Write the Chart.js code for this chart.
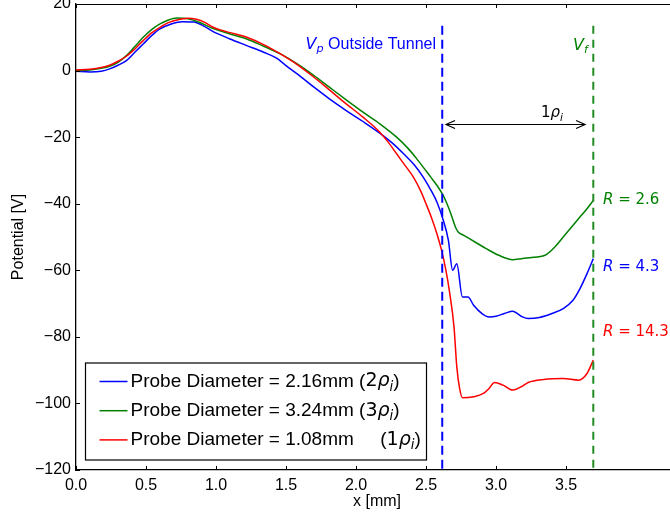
<!DOCTYPE html>
<html>
<head>
<meta charset="utf-8">
<title>Potential profile</title>
<script src="https://cdn.jsdelivr.net/npm/chart.js@4.4.0/dist/chart.umd.min.js"></script>
<style>
    html, body { margin: 0; padding: 0; background: #fff; overflow: hidden; }
    #wrap { width: 670px; height: 514px; overflow: hidden; }
</style>
</head>
<body>
<div id="wrap"><canvas id="potentialChart" width="678" height="514"></canvas></div>
<script>
// x positions [mm] and potential [V]
const blueX = [0.00, 0.10, 0.18, 0.24, 0.30, 0.36, 0.42, 0.48, 0.54, 0.60, 0.68, 0.76, 0.84, 0.92, 0.98, 1.10, 1.22, 1.34, 1.43, 1.50, 1.58, 1.70, 1.81, 1.93, 2.05, 2.17, 2.26, 2.34, 2.42, 2.48, 2.54, 2.58, 2.62, 2.66, 2.69, 2.72, 2.76, 2.80, 2.84, 2.90, 2.95, 3.00, 3.06, 3.12, 3.18, 3.23, 3.31, 3.40, 3.48, 3.55, 3.60, 3.65, 3.695];
const blueY = [-0.2, -0.4, -0.2, 0.5, 1.6, 3.0, 5.5, 8.0, 10.5, 12.5, 14.0, 14.7, 14.6, 13.2, 11.7, 9.5, 7.5, 5.5, 3.8, 1.5, -1.0, -5.0, -8.5, -12.0, -15.3, -18.8, -21.8, -25.0, -28.5, -32.0, -36.3, -39.7, -44.5, -51.0, -60.0, -58.0, -68.0, -68.0, -70.5, -73.0, -74.0, -73.8, -73.0, -72.3, -73.8, -74.5, -74.2, -73.0, -71.5, -69.0, -65.5, -61.0, -56.5];

const greenX = [0.00, 0.10, 0.18, 0.24, 0.30, 0.36, 0.42, 0.48, 0.54, 0.60, 0.66, 0.72, 0.80, 0.88, 0.98, 1.10, 1.22, 1.34, 1.46, 1.58, 1.70, 1.81, 1.93, 2.05, 2.17, 2.29, 2.37, 2.43, 2.48, 2.53, 2.58, 2.62, 2.65, 2.68, 2.71, 2.73, 2.77, 2.85, 2.93, 3.02, 3.12, 3.18, 3.24, 3.35, 3.42, 3.48, 3.54, 3.60, 3.65, 3.695];
const greenY = [0.0, 0.2, 0.7, 1.3, 2.5, 4.5, 7.2, 10.0, 12.3, 14.0, 15.2, 15.8, 15.6, 14.5, 12.6, 11.0, 9.5, 7.3, 5.0, 2.0, -1.5, -5.0, -8.8, -12.5, -16.0, -20.0, -23.3, -26.3, -29.0, -31.8, -34.6, -37.3, -40.0, -43.3, -47.0, -48.5, -49.5, -51.5, -53.5, -55.5, -56.8, -56.5, -56.2, -55.5, -53.0, -50.0, -47.0, -44.0, -41.5, -39.0];

const redX = [0.00, 0.10, 0.18, 0.24, 0.30, 0.36, 0.42, 0.48, 0.54, 0.60, 0.66, 0.72, 0.80, 0.86, 0.92, 0.98, 1.04, 1.10, 1.22, 1.34, 1.46, 1.58, 1.70, 1.81, 1.93, 2.05, 2.17, 2.23, 2.29, 2.35, 2.41, 2.46, 2.50, 2.54, 2.58, 2.61, 2.64, 2.67, 2.70, 2.72, 2.74, 2.76, 2.84, 2.91, 2.95, 2.99, 3.05, 3.12, 3.18, 3.23, 3.34, 3.48, 3.59, 3.65, 3.695];
const redY = [0.2, 0.4, 0.9, 1.6, 2.8, 4.3, 6.5, 9.0, 11.3, 13.0, 14.4, 15.2, 15.7, 15.4, 14.5, 13.0, 12.1, 11.4, 10.0, 7.8, 5.0, 1.8, -2.0, -5.8, -10.0, -14.0, -18.5, -21.5, -25.0, -28.5, -32.0, -36.0, -40.0, -44.3, -49.3, -53.8, -59.5, -67.0, -77.0, -89.0, -95.5, -98.3, -98.0, -97.0, -95.5, -93.7, -94.5, -96.0, -95.0, -93.7, -92.8, -92.5, -93.0, -91.0, -87.0];

const seriesLabels = ['Probe Diameter = 2.16mm', 'Probe Diameter = 3.24mm', 'Probe Diameter = 1.08mm'];
const seriesRho = ['2', '3', '1'];
const seriesColors = ['#0000ff', '#008000', '#ff0000'];

const xTicks = [0.0, 0.5, 1.0, 1.5, 2.0, 2.5, 3.0, 3.5];
const yTicks = [-120, -100, -80, -60, -40, -20, 0, 20];

// V_p and V_f markers (x in mm), dashed from markerTop down to the axis
const markerX = [2.616, 3.695];
const markerTop = 13.5;
const rLabels = ['2.6', '4.3', '14.3'];
const rLabelY = [-39, -59.1, -78.6];
const rLabelColors = ['#008000', '#0000ff', '#ff0000'];

const SANS = '"Liberation Sans", Arial, sans-serif';
const MATH = '"DejaVu Sans", sans-serif';

function toPoints(xs, ys) {
    return xs.map((x, i) => ({ x: x, y: ys[i] }));
}

function fontFor(kind, size) {
    if (kind === 'mi') return 'italic ' + size + 'px ' + MATH;
    if (kind === 'm') return size + 'px ' + MATH;
    return size + 'px ' + SANS;
}

// draws a run of text pieces (regular, math, math italic, subscript); returns width
function richText(ctx, parts, x, y, size, color, dry) {
    ctx.save();
    ctx.fillStyle = color;
    ctx.textBaseline = 'middle';
    ctx.textAlign = 'left';
    let cx = x;
    parts.forEach(p => {
        const s = p.sub ? size * 0.7 : size;
        ctx.font = fontFor(p.f, s);
        if (!dry) ctx.fillText(p.t, cx, y + (p.sub ? size * 0.3 : 0));
        cx += ctx.measureText(p.t).width;
    });
    ctx.restore();
    return cx - x;
}

const frame = {
    id: 'frame',
    afterDraw(chart) {
        const { ctx, chartArea: a, scales: { x, y } } = chart;
        ctx.save();
        ctx.strokeStyle = '#000';
        ctx.lineWidth = 1;
        ctx.beginPath();
        // top spine
        ctx.moveTo(a.left, a.top + 0.5);
        ctx.lineTo(a.right, a.top + 0.5);
        // inward ticks
        xTicks.forEach(v => {
            const px = Math.round(x.getPixelForValue(v)) + 0.5;
            ctx.moveTo(px, a.top); ctx.lineTo(px, a.top + 4);
            ctx.moveTo(px, a.bottom); ctx.lineTo(px, a.bottom - 4);
        });
        yTicks.forEach(v => {
            const py = Math.round(y.getPixelForValue(v)) + 0.5;
            ctx.moveTo(a.left, py); ctx.lineTo(a.left + 4, py);
        });
        ctx.stroke();
        ctx.restore();
    }
};

const notes = {
    id: 'notes',
    afterDatasetsDraw(chart) {
        const { ctx, scales: { x, y } } = chart;
        const X = v => x.getPixelForValue(v);
        const Y = v => y.getPixelForValue(v);

        richText(ctx, [{ t: 'V', f: 'mi' }, { t: 'p', f: 'mi', sub: true }, { t: ' Outside Tunnel', f: 'r' }],
            X(1.64), Y(7.8), 16, '#0000ff');
        richText(ctx, [{ t: 'V', f: 'mi' }, { t: 'f', f: 'mi', sub: true }], X(3.55), Y(7.5), 16, '#008000');

        rLabels.forEach((r, i) => {
            richText(ctx, [{ t: 'R', f: 'mi' }, { t: ' = ' + r, f: 'm' }], X(3.764), Y(rLabelY[i]), 15, rLabelColors[i]);
        });

        // double arrow between the two markers
        const x0 = X(2.643), x1 = X(3.636), ay = Math.round(Y(-16.2)) + 0.5;
        ctx.save();
        ctx.strokeStyle = '#000';
        ctx.lineWidth = 1.2;
        ctx.beginPath();
        ctx.moveTo(x0, ay); ctx.lineTo(x1, ay);
        ctx.moveTo(x0 + 9, ay - 4); ctx.lineTo(x0, ay); ctx.lineTo(x0 + 9, ay + 4);
        ctx.moveTo(x1 - 9, ay - 4); ctx.lineTo(x1, ay); ctx.lineTo(x1 - 9, ay + 4);
        ctx.stroke();
        ctx.restore();
        const rho = [{ t: '1', f: 'm' }, { t: 'ρ', f: 'mi' }, { t: 'i', f: 'mi', sub: true }];
        const w = richText(ctx, rho, 0, 0, 15, '#000', true);
        richText(ctx, rho, X(3.40) - w / 2, Y(-12.9), 15, '#000');

        // legend
        const a = chart.chartArea;
        const bx = a.left + 9.5, by = a.bottom - 107, bw = 341, bh = 97;
        ctx.save();
        ctx.fillStyle = '#fff';
        ctx.fillRect(bx, by, bw, bh);
        ctx.strokeStyle = '#000';
        ctx.lineWidth = 1.2;
        ctx.strokeRect(bx, by, bw, bh);
        ctx.restore();
        const sets = chart.data.datasets.slice(0, 3);
        sets.forEach((ds, i) => {
            const ly = by + 18.5 + i * 29.2;
            ctx.save();
            ctx.strokeStyle = ds.borderColor;
            ctx.lineWidth = 1.5;
            ctx.beginPath();
            ctx.moveTo(bx + 14, ly); ctx.lineTo(bx + 42, ly);
            ctx.stroke();
            ctx.restore();
            const gap = i === 2 ? '     ' : ' ';
            richText(ctx, [
                { t: ds.label + gap + '(', f: 'r' },
                { t: seriesRho[i], f: 'm' },
                { t: 'ρ', f: 'mi' },
                { t: 'i', f: 'mi', sub: true },
                { t: ')', f: 'r' }
            ], bx + 45, ly, 19, '#000');
        });
    }
};

const lineStyle = { borderWidth: 1.5, pointRadius: 0, cubicInterpolationMode: 'monotone' };

const data = {
    datasets: [
        Object.assign({ label: seriesLabels[0], data: toPoints(blueX, blueY), borderColor: seriesColors[0], order: 3 }, lineStyle),
        Object.assign({ label: seriesLabels[1], data: toPoints(greenX, greenY), borderColor: seriesColors[1], order: 2 }, lineStyle),
        Object.assign({ label: seriesLabels[2], data: toPoints(redX, redY), borderColor: seriesColors[2], order: 1 }, lineStyle),
        {
            label: 'Vp', data: [{ x: markerX[0], y: markerTop }, { x: markerX[0], y: yTicks[0] }],
            borderColor: '#0000ff', borderWidth: 2, borderDash: [9, 5], pointRadius: 0, tension: 0, order: 0
        },
        {
            label: 'Vf', data: [{ x: markerX[1], y: markerTop }, { x: markerX[1], y: yTicks[0] }],
            borderColor: '#228b22', borderWidth: 2, borderDash: [8, 6], pointRadius: 0, tension: 0, order: 0
        }
    ]
};

const tickFont = { family: SANS, size: 16 };

new Chart(document.getElementById('potentialChart'), {
    type: 'line',
    data: data,
    options: {
        responsive: false,
        animation: false,
        layout: { padding: { top: 4, left: 0, right: 0, bottom: 0 } },
        plugins: { legend: { display: false }, tooltip: { enabled: false } },
        scales: {
            x: {
                type: 'linear',
                min: 0,
                max: 4.3,
                afterBuildTicks: s => { s.ticks = xTicks.map(v => ({ value: v })); },
                afterFit: s => { s.height = 44; s.paddingLeft = 0; s.paddingRight = 0; },
                grid: { display: false, drawTicks: false },
                border: { display: true, color: '#000', width: 1.3 },
                ticks: { color: '#000', font: tickFont, padding: 6, maxRotation: 0, autoSkip: false,
                    callback: v => v.toFixed(1) },
                title: { display: true, text: 'x [mm]', color: '#000', font: { family: SANS, size: 16 }, padding: { top: 0, bottom: 3 } }
            },
            y: {
                type: 'linear',
                min: -120,
                max: 20,
                afterBuildTicks: s => { s.ticks = yTicks.map(v => ({ value: v })); },
                afterFit: s => { s.width = 76; s.paddingTop = 0; s.paddingBottom = 0; },
                grid: { display: false, drawTicks: false },
                border: { display: true, color: '#000', width: 1.3 },
                ticks: { color: '#000', font: tickFont, padding: 5, autoSkip: false,
                    callback: v => v < 0 ? '\u2212' + Math.abs(v) : String(v) },
                title: { display: true, text: 'Potential [V]', color: '#000', font: { family: SANS, size: 16 }, padding: { top: 9, bottom: 0 } }
            }
        }
    },
    plugins: [frame, notes]
});
</script>
</body>
</html>
